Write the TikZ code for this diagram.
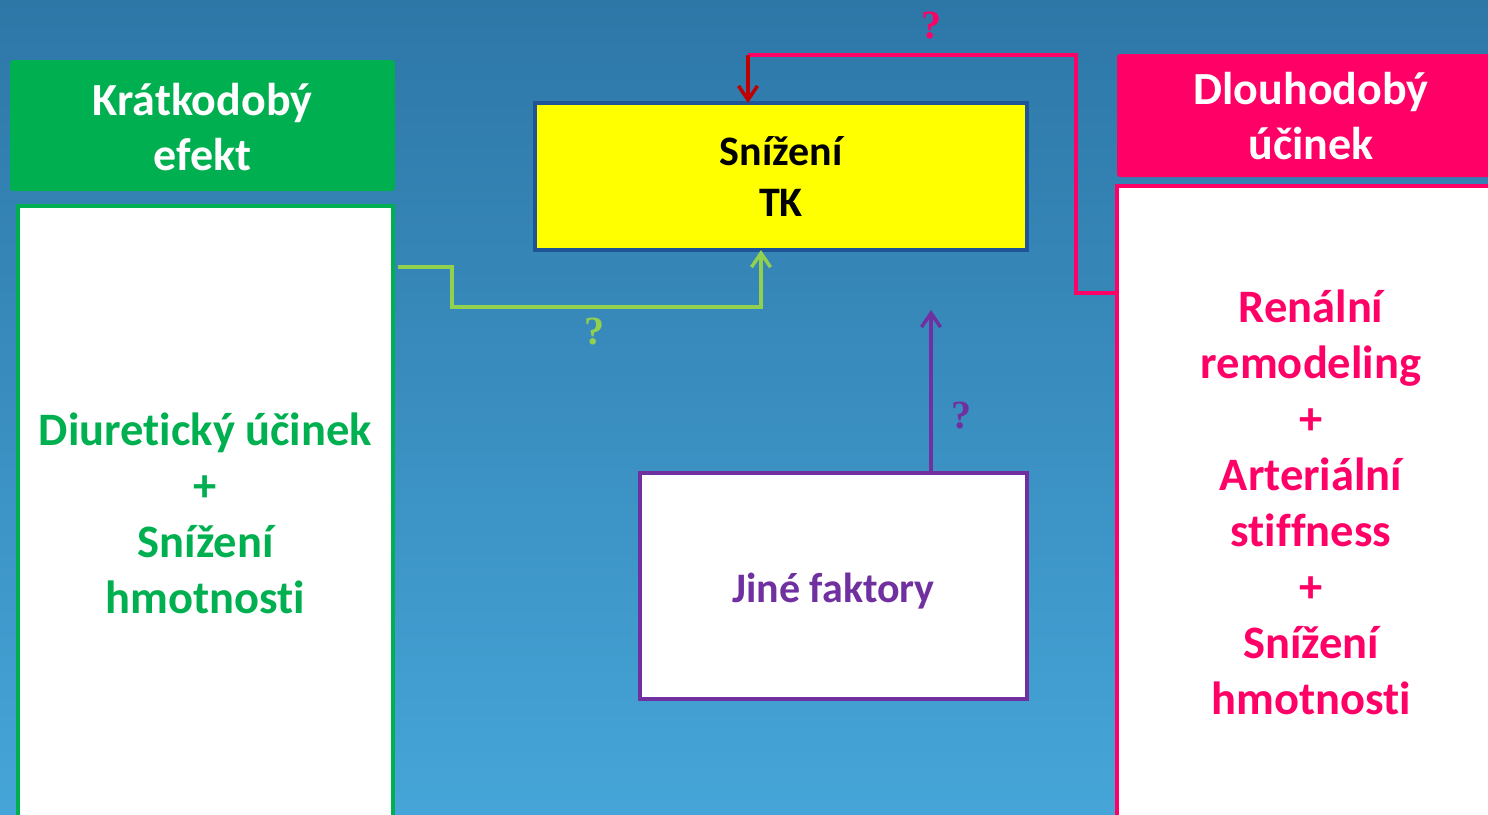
\documentclass[tikz,border=0pt]{standalone}
\usepackage{fontspec}
\setmainfont{Carlito}[Ligatures=NoCommon]
\newfontfamily\qfont{Liberation Serif}
\usetikzlibrary{arrows.meta,calc}
\definecolor{bgtop}{HTML}{2D77A7}
\definecolor{bgbot}{HTML}{46A5D8}
\definecolor{hgreen}{HTML}{00B050}
\definecolor{lgreen}{HTML}{92D050}
\definecolor{hpink}{HTML}{FF0066}
\definecolor{dred}{HTML}{C00000}
\definecolor{purp}{HTML}{7030A0}
\definecolor{dblue}{HTML}{1F5597}
\definecolor{yel}{HTML}{FFFF00}
\tikzset{
  box/.style={draw, line width=4pt, fill=white, outer sep=0pt, inner sep=0pt, align=center, font=\fontsize{46.5}{56}\selectfont\bfseries},
  hdr/.style={rounded corners=3pt, outer sep=0pt, inner sep=0pt, align=center, text=white, font=\fontsize{46}{55}\selectfont\bfseries},
  conn/.style={line width=3.5pt},
  tip/.style={-{Straight Barb[length=14pt,width=19pt]}},
  qmark/.style={font=\fontsize{40}{40}\selectfont\qfont\bfseries, inner sep=0pt}
}
\begin{document}
\begin{tikzpicture}[x=1pt,y=-1pt]
\clip (0,0) rectangle (1488,814);
\useasboundingbox (0,0) rectangle (1488,814);
\shade[top color=bgtop, bottom color=bgbot] (0,0) rectangle (1488,814);

% headers
\node[hdr, fill=hgreen, minimum width=385pt, minimum height=131pt] (shorth) at (202.5,125.5) {\raisebox{-6.5pt}[\height][\depth]{\begin{tabular}{@{}c@{}}Krátkodobý\\efekt\end{tabular}}};
\node[hdr, fill=hpink, minimum width=388pt, minimum height=123pt] (longh) at (1311,115.5) {\raisebox{-5pt}[\height][\depth]{\begin{tabular}{@{}c@{}}Dlouhodobý\\účinek\end{tabular}}};

% bodies
\node[box, draw=hgreen, text=hgreen, minimum width=375pt, minimum height=614pt] (shortb) at (205.5,513) {Diuretický účinek\\+\\Snížení\\hmotnosti};
\node[box, draw=hpink, text=hpink, minimum width=388pt, minimum height=632pt] (longb) at (1311,502) {Renální\\remodeling\\+\\Arteriální\\stiffness\\+\\Snížení\\hmotnosti};
\node[box, fill=yel, draw=dblue, text=black, minimum width=492pt, minimum height=147pt, font=\fontsize{42}{51}\selectfont\bfseries] (tk) at (781,176.5) {Snížení\\TK};
\node[box, draw=purp, text=purp, minimum width=387pt, minimum height=226pt, font=\fontsize{42}{50}\selectfont\bfseries] (other) at (833.5,586) {\raisebox{-5pt}[\height][\depth]{Jiné faktory}};

% pink / red connector
\coordinate (pkstart) at ($(longb.north west)+(0,107)$);
\coordinate (pk1) at (1076,55);
\coordinate (pk2) at (748,55);
\draw[conn, hpink] (pkstart) -| (pk1) -- (pk2);
\draw[conn, dred, tip] (pk2) -- (pk2 |- tk.north);
\node[qmark, text=hpink] (q1) at (931,26) {?};

% green connector
\coordinate (gstart) at ($(shortb.north east)+(5,61)$);
\coordinate (g1) at (452,307);
\coordinate (g2) at (761,307);
\draw[conn, lgreen, tip] (gstart) -| (g1) -- (g2) -- (g2 |- tk.south);
\node[qmark, text=lgreen] (q2) at (594,332) {?};

% purple connector
\coordinate (pu1) at (931,310);
\draw[conn, purp, tip] (other.north -| pu1) -- (pu1);
\node[qmark, text=purp] (q3) at (961,416) {?};
\end{tikzpicture}
\end{document}
